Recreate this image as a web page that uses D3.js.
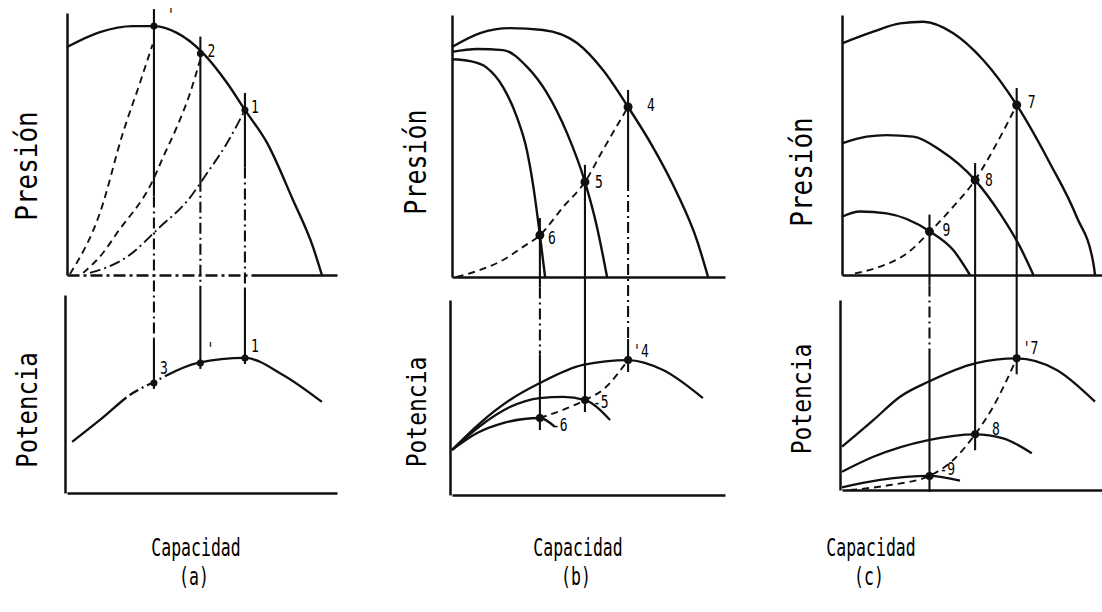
<!DOCTYPE html>
<html>
<head>
<meta charset="utf-8">
<script src="https://cdn.jsdelivr.net/npm/d3@7"></script>
<style>
  html, body { margin: 0; padding: 0; background: #fff; }
  svg { display: block; }
  text { font-family: "DejaVu Sans Mono", monospace; fill: #000; -webkit-font-smoothing: antialiased; }
</style>
</head>
<body>
<svg id="chart" width="1102" height="612"></svg>
<script>
// ---------------------------------------------------------------
// Curvas características de un ventilador: presión y potencia
// frente a capacidad. Valores en % de la escala de cada eje.
// Cada curva es una lista de pares [capacidad, valor].
// ---------------------------------------------------------------

// (a) una curva del ventilador, tres curvas de sistema
const presionA   = [[0,87],[12.2,92.7],[24.4,95],[32.6,95],[40.7,92.4],[50,85.1],[59.3,73.3],[65.9,63],[74.1,50.4],[83.7,28.6],[91.1,10.7],[94.4,0]];
const sistemaA1  = [[1.1,0.4],[12.2,23.7],[20.7,54.2],[27,73.3],[31.7,88]];
const sistemaA2  = [[6,0.8],[13.3,8.4],[18.5,16],[31.9,36.3],[35.6,45],[40.7,56.5],[45.6,69.5],[49.3,82.1]];
const sistemaA3  = [[8.5,0.8],[22.2,6.9],[34.4,18.3],[44.8,28.6],[51.9,38.9],[59.3,50.4],[65.9,63]];
const potenciaA  = [[1.9,25.8],[12.2,36.9],[24.4,50.5],[31.5,55.6],[48.5,65.7],[65.9,68.2],[80,59.6],[94.4,46]];
const capA       = [32.2, 49.4, 65.9];
const presPuntoA = [95, 84.5, 63];
const potPuntoA  = [55.6, 65.7, 68.2];
const etiqSupA   = ["'", "2", "1"];
const etiqInfA   = ["3", "'", "1"];

// (b) tres velocidades, una curva de sistema
const presionB1  = [[0,87.8],[10.3,93.1],[21.2,95],[33.3,94.3],[45.8,89.3],[55.3,79],[64.5,64.9],[73.6,49.6],[82.4,32.1],[89.7,14.1],[93.8,0]];
const presionB2  = [[0,85.9],[9.2,87],[18.7,86.6],[27.5,80.2],[34.8,70.2],[42.1,55],[48.7,36.3],[53.1,19.1],[56.8,0]];
const presionB3  = [[0,83.1],[6.6,82.4],[12.7,79.9],[18.8,72.3],[23.7,61.2],[27.4,48.5],[29.8,34.5],[32.2,16],[34.1,0]];
const sistemaB   = [[1.7,0],[10.3,2.7],[18.7,6.5],[26,11.5],[32.2,16],[40.7,26.7],[48.7,36.3],[55.3,48.5],[64.5,64.9]];
const potenciaB1 = [[0,23.1],[10.3,36.9],[21.2,48.7],[32.2,57.4],[48,66.7],[64.5,69.2],[77.3,64.1],[91.9,49.7]];
const potenciaB2 = [[0,23.1],[10.3,35.4],[21.2,45.1],[32.2,49.7],[40.7,50.3],[48.7,48.7],[57.9,38.5]];
const potenciaB3 = [[0,23.1],[9.2,31.8],[18.7,36.9],[32.2,39.5],[37.7,34.9]];
const sistemaPotB = [[32.2,39.5],[48.7,48.7],[55.3,54],[64.5,69.2]];
const capB       = [32.2, 48.7, 64.5];
const presPuntoB = [16, 36.3, 64.9];
const potPuntoB  = [39.5, 48.7, 69.2];
const etiqSupB   = ["6", "5", "4"];
const etiqInfB   = ["-6", "-5", "'4"];

// (c) tres aberturas de álabes, una curva de sistema
const presionC1  = [[0,89.1],[11.6,93.6],[21.5,96.8],[30.1,97.4],[41.2,93],[52.3,82.7],[64.7,65.4],[77,43],[86.9,22.4],[93.1,4.5],[93.7,0]];
const presionC2  = [[0,50.6],[9.1,53.2],[16.5,53.8],[26.4,53.2],[36.3,48.1],[49.3,36.5],[58.5,23.7],[65.9,10.9],[70.9,0]];
const presionC3  = [[0,22.4],[6.7,24.4],[16.5,23.7],[32.6,16.7],[41.2,9.6],[47.4,0]];
const sistemaC   = [[4.8,0.6],[14.1,3.2],[24,8.3],[32.6,16.7],[41.2,26.3],[49.3,36.5],[57.3,50.6],[64.7,65.4]];
const potenciaC1 = [[0,22.8],[11.6,36.8],[21.5,49.1],[32,57],[49.3,66.7],[64.7,69.3],[79.5,63.2],[93.7,46.5]];
const potenciaC2 = [[0,9.6],[11.6,17.5],[32,26.3],[49.3,29.3],[59.7,27.2],[70.3,19.3]];
const potenciaC3 = [[0,1.4],[14.1,5.3],[32.3,7.4],[43.7,4.9]];
const sistemaPotC = [[3,0],[17.8,2.6],[32.3,7.4],[41.2,15.8],[49.3,29.3],[56,43.8],[64.7,69.3]];
const capC       = [32.4, 49.3, 64.7];
const presPuntoC = [16.7, 36.5, 65.4];
const potPuntoC  = [7.4, 29.3, 69.3];
const etiqSupC   = ["9", "8", "7"];
const etiqInfC   = ["-9", "8", "'7"];

const tituloY1 = "Presión";
const tituloY2 = "Potencia";
const tituloX  = "Capacidad";
const letras   = ["(a)", "(b)", "(c)"];

// ---------------------------------------------------------------
const svg = d3.select("#chart");
const INK = "#101010";
const DASH = "7,5";
const DASHDOT = "11,4,2,4";

const panels = [
  {
    xr: [67, 337], yr1: [275, 13], yr2: [493, 295],
    presion: [presionA], sistema: [[sistemaA1, DASH], [sistemaA2, DASH], [sistemaA3, DASHDOT]],
    potencia: [potenciaA], sistemaPot: null, potDashDot: [22, 31],
    cap: capA, pres: presPuntoA, pot: potPuntoA, sup: etiqSupA, inf: etiqInfA,
    r1: 3.5, r2: 3.5,
    supOff: [[13,-5],[7,3],[6,3]], infOff: [[6,-9],[6,-8],[6,-6]],
    breaks: [[30,78],[36,103],[41,103]], ext: 6,
    t1: {x: 37, y: 166, s: 26}, t2: {x: 37, y: 410, s: 24}, tx: 196,
    axis1Dash: true
  },
  {
    xr: [452, 725], yr1: [277, 15], yr2: [495, 300],
    presion: [presionB1, presionB2, presionB3], sistema: [[sistemaB, DASH]],
    potencia: [potenciaB1, potenciaB2, potenciaB3], sistemaPot: sistemaPotB, potDashDot: null,
    cap: capB, pres: presPuntoB, pot: potPuntoB, sup: etiqSupB, inf: etiqInfB,
    r1: 4.5, r2: 4,
    supOff: [[8,9],[10,6],[19,4]], infOff: [[12,13],[8,8],[5,-3]],
    breaks: [[-4,72], null, [37,80]], ext: 12,
    t1: {x: 426, y: 162, s: 25}, t2: {x: 426, y: 412, s: 23}, tx: 578,
    axis1Dash: false
  },
  {
    xr: [842, 1112], yr1: [275, 15], yr2: [490, 300],
    presion: [presionC1, presionC2, presionC3], sistema: [[sistemaC, DASH]],
    potencia: [potenciaC1, potenciaC2, potenciaC3], sistemaPot: sistemaPotC, potDashDot: null,
    cap: capC, pres: presPuntoC, pot: potPuntoC, sup: etiqSupC, inf: etiqInfC,
    r1: 4.5, r2: 4,
    supOff: [[13,4],[10,6],[11,3]], infOff: [[10,-1],[17,1],[6,-4]],
    breaks: [[-4,70], null, null], ext: 16,
    t1: {x: 812, y: 172, s: 26}, t2: {x: 811, y: 399, s: 23}, tx: 871,
    axis1Dash: false
  }
];

// dasharray: trazo continuo, tramo de trazo-punto entre dos abscisas, y continuo otra vez
function dashBetween(pathNode, xScale, c0, c1) {
  const L = pathNode.getTotalLength();
  const lenAt = xv => {
    let lo = 0, hi = L;
    for (let n = 0; n < 30; n++) {
      const mid = (lo + hi) / 2;
      if (pathNode.getPointAtLength(mid).x < xv) lo = mid; else hi = mid;
    }
    return lo;
  };
  const a = lenAt(xScale(c0)), b = lenAt(xScale(c1));
  const parts = [a];          // trazo
  let run = 0;
  const unit = [4, 10, 4, 2]; // hueco, trazo, hueco, punto
  while (run < b - a) {
    unit.forEach(u => parts.push(u));
    run += 20;
  }
  parts.push(4, L);           // hueco final y trazo hasta el extremo
  parts.push(0);              // número par de entradas
  return parts.join(",");
}

panels.forEach((p, i) => {
  const x  = d3.scaleLinear().domain([0, 100]).range(p.xr);
  const y1 = d3.scaleLinear().domain([0, 100]).range(p.yr1);
  const y2 = d3.scaleLinear().domain([0, 100]).range(p.yr2);
  const g = svg.append("g");

  const styleAxis = sel => {
    sel.select(".domain").attr("stroke", INK).attr("stroke-width", 2.5);
    sel.selectAll(".tick").remove();
  };

  // ejes
  const ax1 = g.append("g").attr("transform", `translate(0,${y1(0)})`)
    .call(d3.axisBottom(x).tickValues([]).tickSizeOuter(0)).call(styleAxis);
  if (p.axis1Dash) {
    const pat = d3.range(8).map(() => "12,4,3,4").join(",") + ",400,0";
    ax1.select(".domain").attr("stroke-dasharray", pat);
  }
  g.append("g").attr("transform", `translate(${x(0)},0)`)
    .call(d3.axisLeft(y1).tickValues([]).tickSizeOuter(0)).call(styleAxis);
  g.append("g").attr("transform", `translate(0,${y2(0)})`)
    .call(d3.axisBottom(x).tickValues([]).tickSizeOuter(0)).call(styleAxis);
  g.append("g").attr("transform", `translate(${x(0) - 2},0)`)
    .call(d3.axisLeft(y2).tickValues([]).tickSizeOuter(0)).call(styleAxis);

  const line1 = d3.line().x(d => x(d[0])).y(d => y1(d[1])).curve(d3.curveMonotoneX);
  const line2 = d3.line().x(d => x(d[0])).y(d => y2(d[1])).curve(d3.curveMonotoneX);

  // líneas verticales de los puntos de funcionamiento
  p.cap.forEach((c, k) => {
    const xv = x(c);
    const yA = y1(p.pres[k]) - 17;
    const yB = y2(p.pot[k]) + p.ext;
    const br = p.breaks[k];
    const seg = (a, b, dash) => g.append("line")
      .attr("x1", xv).attr("x2", xv).attr("y1", a).attr("y2", b)
      .attr("stroke", INK).attr("stroke-width", 2.1)
      .attr("stroke-dasharray", dash);
    if (br) {
      const ya = y1(br[0]), yb = y2(br[1]);
      seg(yA, ya, null);
      seg(ya, yb, DASHDOT);
      seg(yb, yB, null);
    } else {
      seg(yA, yB, null);
    }
  });

  // curvas de presión y potencia
  p.presion.forEach(d => g.append("path").attr("d", line1(d))
    .attr("fill", "none").attr("stroke", INK).attr("stroke-width", 2.4));
  p.sistema.forEach(([d, dash]) => g.append("path").attr("d", line1(d))
    .attr("fill", "none").attr("stroke", INK).attr("stroke-width", 1.9)
    .attr("stroke-dasharray", dash));
  p.potencia.forEach(d => {
    const path = g.append("path").attr("d", line2(d))
      .attr("fill", "none").attr("stroke", INK).attr("stroke-width", 2.3);
    if (p.potDashDot) path.attr("stroke-dasharray", dashBetween(path.node(), x, p.potDashDot[0], p.potDashDot[1]));
  });
  if (p.sistemaPot) g.append("path").attr("d", line2(p.sistemaPot))
    .attr("fill", "none").attr("stroke", INK).attr("stroke-width", 1.9)
    .attr("stroke-dasharray", DASH);

  // puntos de funcionamiento
  p.cap.forEach((c, k) => {
    g.append("circle").attr("cx", x(c)).attr("cy", y1(p.pres[k])).attr("r", p.r1).attr("fill", INK);
    g.append("circle").attr("cx", x(c)).attr("cy", y2(p.pot[k])).attr("r", p.r2).attr("fill", INK);
    g.append("text").attr("transform",
      `translate(${x(c) + p.supOff[k][0]},${y1(p.pres[k]) + p.supOff[k][1]}) scale(1,1.3)`)
      .attr("font-size", 13).text(p.sup[k]);
    g.append("text").attr("transform",
      `translate(${x(c) + p.infOff[k][0]},${y2(p.pot[k]) + p.infOff[k][1]}) scale(1,1.3)`)
      .attr("font-size", 13).text(p.inf[k]);
  });

  // títulos de ejes
  g.append("text").attr("transform", `translate(${p.t1.x},${p.t1.y}) rotate(-90) scale(1,1.18)`)
    .attr("text-anchor", "middle").attr("font-size", p.t1.s).text(tituloY1);
  g.append("text").attr("transform", `translate(${p.t2.x},${p.t2.y}) rotate(-90) scale(1,1.18)`)
    .attr("text-anchor", "middle").attr("font-size", p.t2.s).text(tituloY2);
  g.append("text").attr("transform", `translate(${p.tx},556) scale(1,1.5)`)
    .attr("text-anchor", "middle").attr("font-size", 16.5).text(tituloX);
  g.append("text").attr("transform", `translate(${p.tx - 2},585) scale(1,1.5)`)
    .attr("text-anchor", "middle").attr("font-size", 16.5).text(letras[i]);
});
</script>
</body>
</html>
